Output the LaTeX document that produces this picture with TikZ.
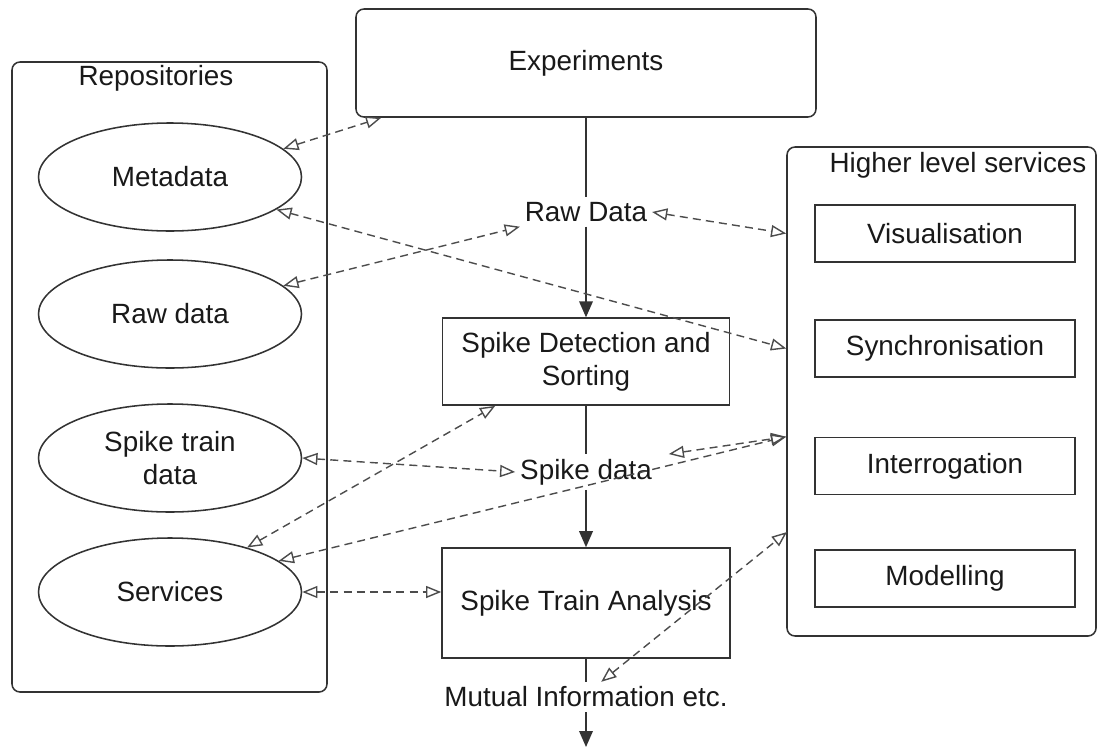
\documentclass[tikz,border=0pt]{standalone}
\usepackage{fontspec}
\setmainfont{Liberation Sans}
\usetikzlibrary{shapes,arrows.meta,positioning}

\begin{document}
\begin{tikzpicture}[
    every node/.style={font=\fontsize{19.8}{23.5}\selectfont, text=black!90},
    group/.style={rectangle, draw=black!80, rounded corners=0.2cm, line width=1.1pt},
    store/.style={ellipse, draw=black!80, line width=1.1pt, minimum width=6.575cm, minimum height=2.7cm, inner sep=0pt, align=center},
    box/.style={rectangle, draw=black!80, line width=1.1pt, align=center},
    service/.style={box, minimum width=6.5cm, minimum height=1.425cm},
    pipe/.style={line width=1.1pt, draw=black!80},
    flow/.style={pipe, -{Triangle[length=0.4cm,width=0.34cm]}},
    link/.style={{Triangle[open,length=0.38cm,width=0.3cm]}-{Triangle[open,length=0.38cm,width=0.3cm]}, dash pattern=on 0.2cm off 0.13cm, line width=1pt, draw=black!70}
]

\useasboundingbox (0,0) rectangle (27.45,-18.725);

% Repositories
\node[group, minimum width=7.875cm, minimum height=15.75cm] (repos) at (4.2375,-9.425) {};
\node (reposlbl) at (3.9,-1.95) {Repositories};
\node[store] (meta) at (4.25,-4.425) {Metadata};
\node[store] (raw) at (4.25,-7.85) {Raw data};
\node[store] (spk) at (4.25,-11.45) {Spike train\\data};
\node[store] (svc) at (4.25,-14.8) {Services};

% Processing chain
\node[group, minimum width=11.5cm, minimum height=2.7cm] (exp) at (14.65,-1.575) {Experiments};
\node (rawlbl) at (14.65,-5.3) {Raw Data};
\node[box, minimum width=7.175cm, minimum height=2.175cm] (sds) at (14.65,-9.04) {Spike Detection and\\Sorting};
\node (spklbl) at (14.65,-11.8) {Spike data};
\node[box, minimum width=7.2cm, minimum height=2.75cm] (sta) at (14.65,-15.075) {Spike Train Analysis};
\node (mutual) at (14.65,-17.425) {Mutual Information etc.};
\coordinate (out) at (14.65,-18.675);

% Higher level services
\node[group, minimum width=7.725cm, minimum height=12.225cm] (hls) at (23.5375,-9.7875) {};
\node (hlslbl) at (23.95,-4.125) {Higher level services};
\node[service] (vis) at (23.625,-5.8375) {Visualisation};
\node[service] (synch) at (23.625,-8.7125) {Synchronisation};
\node[service] (interr) at (23.625,-11.65) {Interrogation};
\node[service] (model) at (23.625,-14.4625) {Modelling};
\coordinate (hlsport) at (19.675,-13.3);

% Main flow
\draw[pipe] (exp) -- (rawlbl);
\draw[flow] (rawlbl) -- (sds);
\draw[pipe] (sds) -- (spklbl);
\draw[flow] (spklbl) -- (sta);
\draw[pipe] (sta) -- (mutual);
\draw[flow] (mutual) -- (out);

% Dashed links
\draw[link] (meta.14) -- ([xshift=0.65cm]exp.south west);
\draw[link] (meta.-17) -- (hls.west |- synch);
\draw[link] (raw.14) -- (rawlbl.south west);
\draw[link] (rawlbl.east) -- (hls.west |- vis);
\draw[link] (spk.east) -- (spklbl.west);
\draw[link] (svc.30) -- (sds.206);
\draw[link] (svc.16) -- (hls.west |- interr.north);
\draw[link] ([xshift=0.3cm]spklbl.north east) -- (hls.west |- interr.north);
\draw[link] (svc.east) -- (svc.east -| sta.west);
\draw[link] (mutual.45) -- (hlsport);

\end{tikzpicture}
\end{document}
